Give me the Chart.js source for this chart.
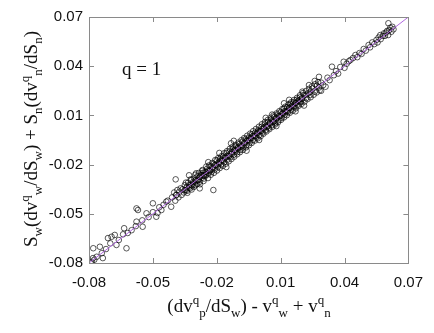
<!DOCTYPE html>
<html>
<head>
<meta charset="utf-8">
<script src="https://cdn.jsdelivr.net/npm/chart.js@4.4.0/dist/chart.umd.min.js"></script>
<style>
  html, body { margin: 0; padding: 0; background: #fff; }
  #wrap { width: 434px; height: 333px; }
</style>
</head>
<body>
<div id="wrap"><canvas id="scatterChart" width="434" height="333"></canvas></div>
<script>
// axis ticks
const xTicks = [-0.08, -0.05, -0.02, 0.01, 0.04, 0.07];
const yTicks = [-0.08, -0.05, -0.02, 0.01, 0.04, 0.07];

// y = x reference line
const lineX = [-0.08, 0.07];
const lineY = [-0.08, 0.07];

// scatter points
const xVals = [
  -0.0787, -0.0781, -0.0764, -0.0749, -0.0780, -0.0735, -0.0711, -0.0694, -0.0679, -0.0671,
  -0.0624, -0.0635, -0.0618, -0.0577, -0.0570, -0.0548, -0.0530, -0.0500, -0.0484, -0.0478,
  -0.0460, -0.0437, -0.0414, -0.0577,
  -0.079, -0.0775, -0.074, -0.072, -0.070, -0.066, -0.064, -0.060, -0.058, -0.055,
  -0.052, -0.050, -0.047, -0.045, -0.043, -0.041, -0.039,
  -0.0393, -0.0216, -0.0297, -0.0267, -0.0133, -0.0188, 0.0202, 0.0116, 0.0233, -0.0001,
  -0.040, -0.0395, -0.039, -0.0385, -0.038, -0.0375, -0.037, -0.0365, -0.036, -0.0355,
  -0.035, -0.0345, -0.034, -0.0335, -0.033, -0.0325, -0.032, -0.0315, -0.031, -0.0305,
  -0.030, -0.0295, -0.029, -0.0285, -0.028, -0.0275, -0.027, -0.0265, -0.026, -0.0255,
  -0.025, -0.0245, -0.024, -0.0235, -0.023, -0.0225, -0.022, -0.0215, -0.021, -0.0205,
  -0.020, -0.0195, -0.019, -0.0185, -0.018, -0.0175, -0.017, -0.0165, -0.016, -0.0155,
  -0.015, -0.0145, -0.014, -0.0135, -0.013, -0.0125, -0.012, -0.0115, -0.011, -0.0105,
  -0.010, -0.0095, -0.009, -0.0085, -0.008, -0.0075, -0.007, -0.0065, -0.006, -0.0055,
  -0.005, -0.0045, -0.004, -0.0035, -0.003, -0.0025, -0.002, -0.0015, -0.001, -0.0005,
  0.000, 0.0005, 0.001, 0.0015, 0.002, 0.0025, 0.003, 0.0035, 0.004, 0.0045,
  0.005, 0.0055, 0.006, 0.0065, 0.007, 0.0075, 0.008, 0.0085, 0.009, 0.0095,
  0.010, 0.0105, 0.011, 0.0115, 0.012, 0.0125, 0.013, 0.0135, 0.014, 0.0145,
  0.015, 0.0155, 0.016, 0.0165, 0.017, 0.0175, 0.018, 0.0185, 0.019, 0.0195,
  0.020, 0.021, 0.022, 0.023, 0.024, 0.025, 0.026, 0.027, 0.028, 0.029, 0.030,
  -0.035, -0.034, -0.033, -0.032, -0.031, -0.030, -0.029, -0.028, -0.027, -0.026,
  -0.025, -0.024, -0.023, -0.022, -0.021, -0.020, -0.019, -0.018, -0.017, -0.016,
  -0.015, -0.014, -0.013, -0.012, -0.011, -0.010, -0.009, -0.008, -0.007, -0.006,
  -0.005, -0.004, -0.003, -0.002, -0.001, 0.000, 0.001, 0.002, 0.003, 0.004,
  0.005, 0.006, 0.007, 0.008, 0.009, 0.010, 0.011, 0.012, 0.013, 0.014,
  0.015, 0.016, 0.017, 0.018, 0.019, 0.020, 0.022, 0.024,
  -0.0345, -0.0338, -0.0322, -0.0318, -0.0307, -0.0301, -0.0292, -0.0284, -0.0279, -0.0268,
  -0.0262, -0.0257, -0.0249, -0.0241, -0.0236, -0.0228, -0.0221, -0.0213, -0.0207, -0.0199,
  -0.0193, -0.0186, -0.0178, -0.0171, -0.0166, -0.0158, -0.0152, -0.0144, -0.0139, -0.0131,
  -0.0126, -0.0118, -0.0112, -0.0104, -0.0098, -0.0091, -0.0084, -0.0077, -0.0071, -0.0063,
  -0.0057, -0.0049, -0.0043, -0.0036, -0.0029, -0.0022, -0.0016, -0.0008, -0.0002, 0.0006,
  0.0012, 0.0019, 0.0026, 0.0033, 0.0039, 0.0047, 0.0053, 0.0061, 0.0067, 0.0074,
  0.0081, 0.0088, 0.0094, 0.0102, 0.0108, 0.0116, 0.0122, 0.0129, 0.0136, 0.0143,
  0.0149, 0.0157, 0.0163, 0.0171, 0.0177, 0.0184, 0.0191, 0.0198, 0.0205, 0.0212,
  0.0219, 0.0226, 0.0233, 0.0241, 0.0247, 0.0255, 0.0262, 0.0269, 0.0276, 0.0283,
  -0.033, -0.028, -0.012, -0.006, 0.003, 0.008, 0.014, 0.017, 0.026, 0.006,
  -0.0155, -0.024, 0.021, 0.028, 0.029,
  0.0311, 0.032, 0.033, 0.0341, 0.035, 0.036, 0.037, 0.038, 0.0396, 0.040,
  0.041, 0.042, 0.0428, 0.044, 0.0451, 0.046, 0.047, 0.048, 0.049, 0.050,
  0.0513, 0.052, 0.053, 0.054, 0.055, 0.0555, 0.056, 0.0568, 0.057, 0.058,
  0.0585, 0.059, 0.0595, 0.060, 0.0606, 0.061, 0.0605, 0.0615, 0.062, 0.0625, 0.063
];
const yVals = [
  -0.0792, -0.0770, -0.0762, -0.0701, -0.0710, -0.0770, -0.0648, -0.0640, -0.0629, -0.0690,
  -0.0710, -0.0588, -0.0617, -0.0548, -0.0477, -0.0579, -0.0497, -0.0436, -0.0518, -0.0495,
  -0.0477, -0.0426, -0.0457, -0.0467,
  -0.080, -0.078, -0.074, -0.0715, -0.068, -0.066, -0.0625, -0.060, -0.0575, -0.054,
  -0.052, -0.049, -0.046, -0.0445, -0.042, -0.040, -0.0385,
  -0.0290, -0.0355, -0.0253, -0.0233, -0.0070, -0.0129, 0.0245, 0.0174, 0.0285, -0.0050,
  -0.0370, -0.0420, -0.0385, -0.0355, -0.0400, -0.0365, -0.0345, -0.0385, -0.0350, -0.0370,
  -0.0325, -0.0355, -0.0360, -0.0310, -0.0340, -0.0345, -0.0295, -0.0330, -0.0315, -0.0285,
  -0.0325, -0.0300, -0.0270, -0.0295, -0.0305, -0.0265, -0.0280, -0.0250, -0.0285, -0.0245,
  -0.0265, -0.0225, -0.0255, -0.0240, -0.0210, -0.0245, -0.0225, -0.0195, -0.0230, -0.0200,
  -0.0175, -0.0215, -0.0195, -0.0165, -0.0200, -0.0170, -0.0150, -0.0185, -0.0160, -0.0130,
  -0.0170, -0.0150, -0.0120, -0.0155, -0.0125, -0.0105, -0.0140, -0.0110, -0.0090, -0.0125,
  -0.0100, -0.0075, -0.0110, -0.0090, -0.0060, -0.0095, -0.0070, -0.0045, -0.0080, -0.0050,
  -0.0035, -0.0065, -0.0040, -0.0015, -0.0050, -0.0025, -0.0005, -0.0035, -0.0010, 0.0010,
  -0.0020, 0.0005, 0.0030, -0.0005, 0.0020, 0.0045, 0.0010, 0.0030, 0.0060, 0.0025,
  0.0050, 0.0075, 0.0040, 0.0060, 0.0090, 0.0055, 0.0080, 0.0105, 0.0070, 0.0095,
  0.0120, 0.0085, 0.0110, 0.0140, 0.0105, 0.0125, 0.0150, 0.0120, 0.0145, 0.0170,
  0.0135, 0.0160, 0.0180, 0.0150, 0.0175, 0.0195, 0.0165, 0.0190, 0.0210, 0.0180,
  0.0200, 0.0225, 0.0205, 0.0235, 0.0225, 0.0265, 0.0245, 0.0280, 0.0270, 0.0300, 0.0285,
  -0.0355, -0.0335, -0.0325, -0.0325, -0.0305, -0.0295, -0.0295, -0.0275, -0.0265, -0.0265,
  -0.0245, -0.0235, -0.0235, -0.0215, -0.0205, -0.0205, -0.0185, -0.0175, -0.0175, -0.0155,
  -0.0145, -0.0145, -0.0135, -0.0115, -0.0115, -0.0095, -0.0085, -0.0085, -0.0065, -0.0055,
  -0.0055, -0.0035, -0.0025, -0.0025, -0.0005, 0.0005, 0.0005, 0.0025, 0.0035, 0.0035,
  0.0055, 0.0065, 0.0065, 0.0085, 0.0095, 0.0095, 0.0115, 0.0125, 0.0125, 0.0145,
  0.0155, 0.0155, 0.0175, 0.0185, 0.0185, 0.0205, 0.0225, 0.0245,
  -0.0310, -0.0372, -0.0290, -0.0352, -0.0336, -0.0262, -0.0318, -0.0251, -0.0320, -0.0238,
  -0.0300, -0.0270, -0.0212, -0.0282, -0.0205, -0.0262, -0.0190, -0.0250, -0.0172, -0.0236,
  -0.0160, -0.0221, -0.0149, -0.0208, -0.0131, -0.0195, -0.0118, -0.0180, -0.0104, -0.0166,
  -0.0092, -0.0152, -0.0080, -0.0137, -0.0066, -0.0124, -0.0051, -0.0110, -0.0038, -0.0095,
  -0.0024, -0.0082, -0.0011, -0.0068, 0.0004, -0.0054, 0.0017, -0.0040, 0.0031, -0.0027,
  0.0046, -0.0012, 0.0059, 0.0002, 0.0072, 0.0016, 0.0086, 0.0030, 0.0099, 0.0045,
  0.0112, 0.0058, 0.0126, 0.0073, 0.0139, 0.0088, 0.0153, 0.0101, 0.0166, 0.0116,
  0.0180, 0.0129, 0.0194, 0.0143, 0.0207, 0.0158, 0.0223, 0.0170, 0.0236, 0.0184,
  0.0249, 0.0199, 0.0262, 0.0211, 0.0277, 0.0226, 0.0290, 0.0240, 0.0303, 0.0253,
  -0.0265, -0.0345, -0.0055, -0.0115, 0.0085, 0.0035, 0.0195, 0.0125, 0.0310, 0.0105,
  -0.0215, -0.0185, 0.0160, 0.0335, 0.0250,
  0.0275, 0.0330, 0.0315, 0.0397, 0.0345, 0.0370, 0.0355, 0.0395, 0.0427, 0.0390,
  0.0415, 0.0430, 0.0438, 0.0450, 0.0468, 0.0455, 0.0480, 0.0475, 0.0505, 0.0495,
  0.0529, 0.0515, 0.0545, 0.0535, 0.0560, 0.0545, 0.0575, 0.0590, 0.0565, 0.0585,
  0.0600, 0.0585, 0.0605, 0.0615, 0.0662, 0.0620, 0.0590, 0.0635, 0.0610, 0.0640, 0.0625
];

const axisGray = '#8a8a8a';
const serif = '"Liberation Serif", "DejaVu Serif", serif';

// text with sub/superscripts: parts = [[text, ''|'sup'|'sub'], ...]
function measureRich(ctx, parts) {
  let w = 0;
  parts.forEach(([t, m]) => {
    ctx.font = (m ? '13px ' : '19px ') + serif;
    w += ctx.measureText(t).width;
  });
  return w;
}
function drawRich(ctx, parts, x, y) {
  let cx = x;
  parts.forEach(([t, m]) => {
    ctx.font = (m ? '13px ' : '19px ') + serif;
    const dy = m === 'sup' ? -8 : (m === 'sub' ? 5 : 0);
    ctx.fillText(t, cx, y + dy);
    cx += ctx.measureText(t).width;
  });
}

const xTitle = [['(dv', ''], ['q', 'sup'], ['p', 'sub'], ['/dS', ''], ['w', 'sub'], [') - v', ''],
  ['q', 'sup'], ['w', 'sub'], [' + v', ''], ['q', 'sup'], ['n', 'sub']];
const yTitle = [['S', ''], ['w', 'sub'], ['(dv', ''], ['q', 'sup'], ['w', 'sub'], ['/dS', ''], ['w', 'sub'],
  [') + S', ''], ['n', 'sub'], ['(dv', ''], ['q', 'sup'], ['n', 'sub'], ['/dS', ''], ['n', 'sub'], [')', '']];

const framePlugin = {
  id: 'frame',
  afterDraw(chart) {
    const ctx = chart.ctx;
    const a = chart.chartArea;
    const xs = chart.scales.x, ys = chart.scales.y;
    ctx.save();
    ctx.strokeStyle = axisGray;
    ctx.lineWidth = 1;
    ctx.strokeRect(Math.round(a.left) + 0.5, Math.round(a.top) + 0.5,
      Math.round(a.right - a.left), Math.round(a.bottom - a.top));
    ctx.beginPath();
    xTicks.forEach(v => {
      const px = Math.round(xs.getPixelForValue(v)) + 0.5;
      ctx.moveTo(px, a.bottom); ctx.lineTo(px, a.bottom - 5);
      ctx.moveTo(px, a.top); ctx.lineTo(px, a.top + 5);
    });
    yTicks.forEach(v => {
      const py = Math.round(ys.getPixelForValue(v)) + 0.5;
      ctx.moveTo(a.left, py); ctx.lineTo(a.left + 5, py);
      ctx.moveTo(a.right, py); ctx.lineTo(a.right - 5, py);
    });
    ctx.stroke();

    ctx.fillStyle = '#111';
    ctx.textBaseline = 'alphabetic';
    ctx.textAlign = 'left';
    // x title
    const wx = measureRich(ctx, xTitle);
    drawRich(ctx, xTitle, 249 - wx / 2, 312);
    // y title, rotated
    const wy = measureRich(ctx, yTitle);
    ctx.translate(37, 139);
    ctx.rotate(-Math.PI / 2);
    drawRich(ctx, yTitle, -wy / 2, 0);
    ctx.setTransform(1, 0, 0, 1, 0, 0);
    // annotation
    ctx.font = '19px ' + serif;
    ctx.fillText('q = 1', 122, 75);
    ctx.restore();
  }
};

const tickFont = { family: '"Liberation Sans", Arial, sans-serif', size: 15 };

new Chart(document.getElementById('scatterChart').getContext('2d'), {
  type: 'scatter',
  data: {
    datasets: [
      {
        type: 'line',
        data: lineX.map((x, i) => ({ x: x, y: lineY[i] })),
        borderColor: 'rgb(176, 104, 224)',
        borderWidth: 1,
        pointRadius: 0,
        fill: false,
        order: 0
      },
      {
        data: xVals.map((x, i) => ({ x: x, y: yVals[i] })),
        pointStyle: 'circle',
        pointRadius: 2.8,
        backgroundColor: 'rgba(0,0,0,0)',
        borderColor: 'rgba(0,0,0,0.82)',
        borderWidth: 0.8,
        order: 1
      }
    ]
  },
  options: {
    responsive: false,
    animation: false,
    layout: { padding: { left: 0, right: 24, top: 17, bottom: 0 } },
    plugins: {
      legend: { display: false },
      tooltip: { enabled: false }
    },
    scales: {
      x: {
        type: 'linear',
        min: -0.08,
        max: 0.07,
        afterBuildTicks: s => { s.ticks = xTicks.map(v => ({ value: v })); },
        afterFit: s => { s.height = 70; },
        border: { display: false },
        grid: { display: false, drawTicks: false },
        ticks: { font: tickFont, color: '#111', padding: 11, maxRotation: 0,
          callback: v => v.toFixed(2) }
      },
      y: {
        type: 'linear',
        min: -0.08,
        max: 0.07,
        afterBuildTicks: s => { s.ticks = yTicks.map(v => ({ value: v })); },
        afterFit: s => { s.width = 89; },
        border: { display: false },
        grid: { display: false, drawTicks: false },
        ticks: { font: tickFont, color: '#111', padding: 6,
          callback: v => v.toFixed(2) }
      }
    }
  },
  plugins: [framePlugin]
});
</script>
</body>
</html>
